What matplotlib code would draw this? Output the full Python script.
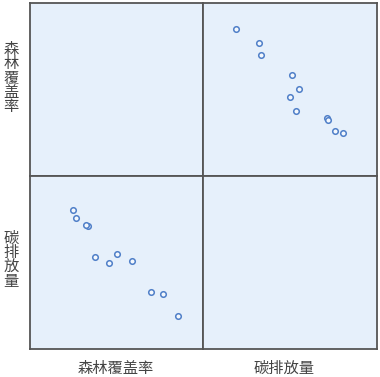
import matplotlib.pyplot as plt

plt.rcParams['font.family'] = ['Noto Sans CJK SC', 'DejaVu Sans']

# data (arbitrary 0-100 units)
labels = ['森林覆盖率', '碳排放量']
forest = [85.1, 76.8, 69.8, 58.6, 50.2, 45.8, 37.6, 33.5, 32.1, 26.3, 25.0]
carbon = [18.8, 31.8, 33.1, 50.9, 54.9, 49.8, 53.1, 71.0, 71.8, 75.6, 80.5]
data = [forest, carbon]

bg = '#e6f0fb'
edge = '#4f7fc8'

fig = plt.figure(figsize=(3.8, 3.77), dpi=100)
x0, y0 = 30 / 380, 1 - 349 / 377
w, h = 173.5 / 380, 173 / 377

# label positions in pixels (left labels y, bottom labels x)
left_y = [78, 260]
bottom_x = [116, 284]

for r in range(2):
    for c in range(2):
        ax = fig.add_axes([x0 + c * w, y0 + (1 - r) * h, w, h])
        ax.set_facecolor(bg)
        ax.set_xlim(0, 100)
        ax.set_ylim(0, 100)
        ax.set_xticks([])
        ax.set_yticks([])
        for s in ax.spines.values():
            s.set_color('#555555')
            s.set_linewidth(1.3)
        if r != c:
            ax.plot(data[c], data[r], 'o', ls='none', ms=4, mfc='#f4f8fd',
                    mec=edge, mew=1.1)

for i, lab in enumerate(labels):
    fig.text(11 / 380, 1 - left_y[i] / 377, '\n'.join(lab),
             ha='center', va='center', fontsize=11, color='#444444',
             linespacing=0.8)
    fig.text(bottom_x[i] / 380, 1 - 368 / 377, lab,
             ha='center', va='center', fontsize=11, color='#444444')

fig.savefig('out.png', dpi=100)
